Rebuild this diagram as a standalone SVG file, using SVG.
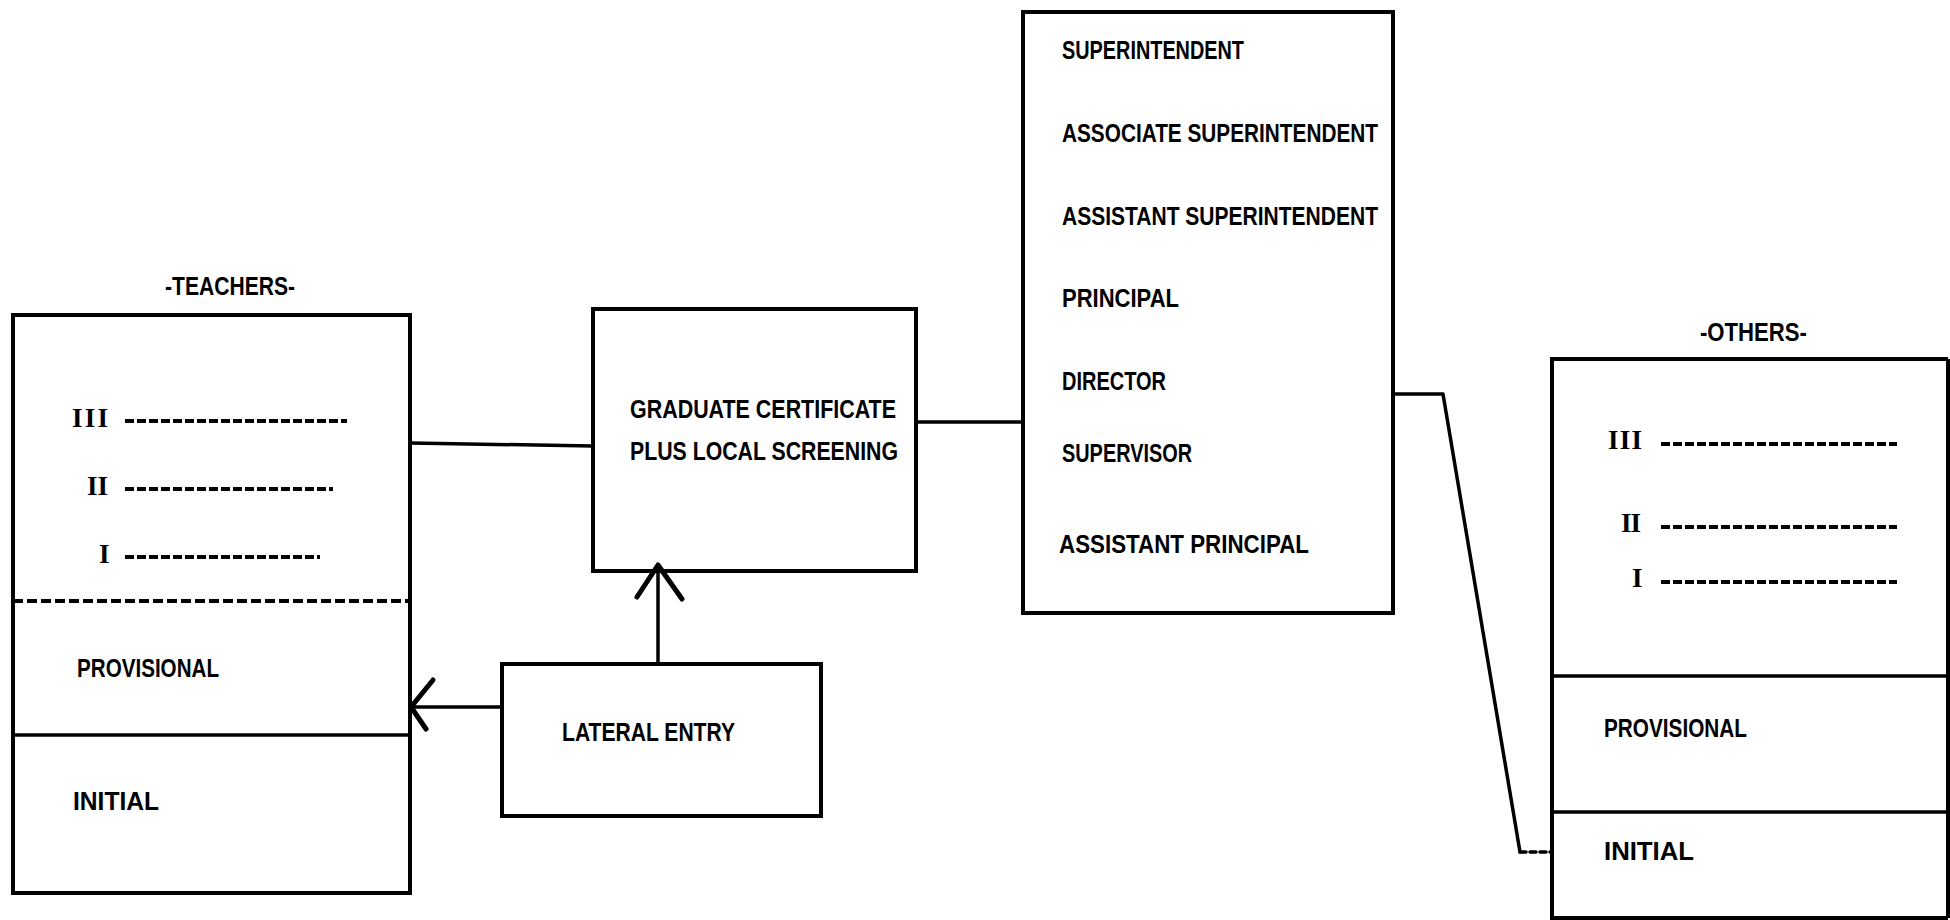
<svg xmlns="http://www.w3.org/2000/svg" width="1950" height="920" viewBox="0 0 1950 920">
<style>
  .box { fill: none; stroke: #000; stroke-width: 4; stroke-linejoin: miter; }
  .sep { stroke: #000; stroke-width: 3.5; fill: none; }
  .dsep { stroke: #000; stroke-width: 4; stroke-dasharray: 10 4; fill: none; }
  .lead { stroke: #000; stroke-width: 4; stroke-dasharray: 9 3; fill: none; }
  .con { stroke: #000; stroke-width: 3.5; fill: none; stroke-linecap: round; stroke-linejoin: round; }
  .arr { stroke: #000; stroke-width: 5; fill: none; stroke-linecap: round; stroke-linejoin: round; }
  text { font-family: "Liberation Sans", Arial, sans-serif; font-weight: bold; font-size: 26px; fill: #000; }
  text.num { font-family: "Liberation Serif", "Times New Roman", serif; font-size: 27px; }
</style>
<rect width="1950" height="920" fill="#fff"/>

<g id="teachers">
  <text x="165" y="295" textLength="130" lengthAdjust="spacingAndGlyphs">-TEACHERS-</text>
  <rect class="box" x="13" y="315" width="397" height="578"/>
  <text class="num" x="72" y="427" textLength="36" lengthAdjust="spacing">III</text>
  <line class="lead" x1="125" y1="421" x2="347" y2="421"/>
  <text class="num" x="87" y="495" textLength="21" lengthAdjust="spacing">II</text>
  <line class="lead" x1="125" y1="489" x2="333" y2="489"/>
  <text class="num" x="99" y="563">I</text>
  <line class="lead" x1="125" y1="557" x2="320" y2="557"/>
  <line class="dsep" x1="13" y1="601" x2="410" y2="601"/>
  <text x="77" y="677" textLength="142" lengthAdjust="spacingAndGlyphs">PROVISIONAL</text>
  <line class="sep" x1="13" y1="735" x2="410" y2="735"/>
  <text x="73" y="810" textLength="86" lengthAdjust="spacingAndGlyphs">INITIAL</text>
</g>

<g id="graduate">
  <rect class="box" x="593" y="309" width="323" height="262"/>
  <text x="630" y="418" textLength="266" lengthAdjust="spacingAndGlyphs">GRADUATE CERTIFICATE</text>
  <text x="630" y="460" textLength="268" lengthAdjust="spacingAndGlyphs">PLUS LOCAL SCREENING</text>
</g>

<g id="lateral">
  <rect class="box" x="502" y="664" width="319" height="152"/>
  <text x="562" y="741" textLength="173" lengthAdjust="spacingAndGlyphs">LATERAL ENTRY</text>
</g>

<g id="admin">
  <rect class="box" x="1023" y="12" width="370" height="601"/>
  <text x="1062" y="59" textLength="182" lengthAdjust="spacingAndGlyphs">SUPERINTENDENT</text>
  <text x="1062" y="142" textLength="316" lengthAdjust="spacingAndGlyphs">ASSOCIATE SUPERINTENDENT</text>
  <text x="1062" y="225" textLength="316" lengthAdjust="spacingAndGlyphs">ASSISTANT SUPERINTENDENT</text>
  <text x="1062" y="307" textLength="117" lengthAdjust="spacingAndGlyphs">PRINCIPAL</text>
  <text x="1062" y="390" textLength="104" lengthAdjust="spacingAndGlyphs">DIRECTOR</text>
  <text x="1062" y="462" textLength="130" lengthAdjust="spacingAndGlyphs">SUPERVISOR</text>
  <text x="1059" y="553" textLength="250" lengthAdjust="spacingAndGlyphs">ASSISTANT PRINCIPAL</text>
</g>

<g id="others">
  <text x="1700" y="341" textLength="107" lengthAdjust="spacingAndGlyphs">-OTHERS-</text>
  <path class="box" d="M1948 359 L1552 359 L1552 918 L1948 918"/>
  <line class="box" x1="1948" y1="359" x2="1948" y2="918"/>
  <text class="num" x="1608" y="449" textLength="34" lengthAdjust="spacing">III</text>
  <line class="lead" x1="1661" y1="444" x2="1897" y2="444"/>
  <text class="num" x="1621" y="532" textLength="20" lengthAdjust="spacing">II</text>
  <line class="lead" x1="1661" y1="527" x2="1897" y2="527"/>
  <text class="num" x="1632" y="587">I</text>
  <line class="lead" x1="1661" y1="582" x2="1897" y2="582"/>
  <line class="sep" x1="1552" y1="676" x2="1948" y2="676"/>
  <text x="1604" y="737" textLength="143" lengthAdjust="spacingAndGlyphs">PROVISIONAL</text>
  <line class="sep" x1="1552" y1="812" x2="1948" y2="812"/>
  <text x="1604" y="860" textLength="90" lengthAdjust="spacingAndGlyphs">INITIAL</text>
</g>

<g id="connectors">
  <line class="con" x1="410" y1="443" x2="593" y2="446"/>
  <line class="con" x1="916" y1="422" x2="1023" y2="422"/>
  <line class="con" x1="658" y1="664" x2="658" y2="571"/>
  <polyline class="arr" points="637,597 658,565 682,599"/>
  <line class="con" x1="502" y1="707" x2="410" y2="707"/>
  <polyline class="arr" points="433,680 411,707 426,729"/>
  <polyline class="con" points="1393,394 1443,394 1520,852"/>
  <line class="con" x1="1520" y1="852" x2="1552" y2="852" stroke-dasharray="6 4"/>
</g>
</svg>
